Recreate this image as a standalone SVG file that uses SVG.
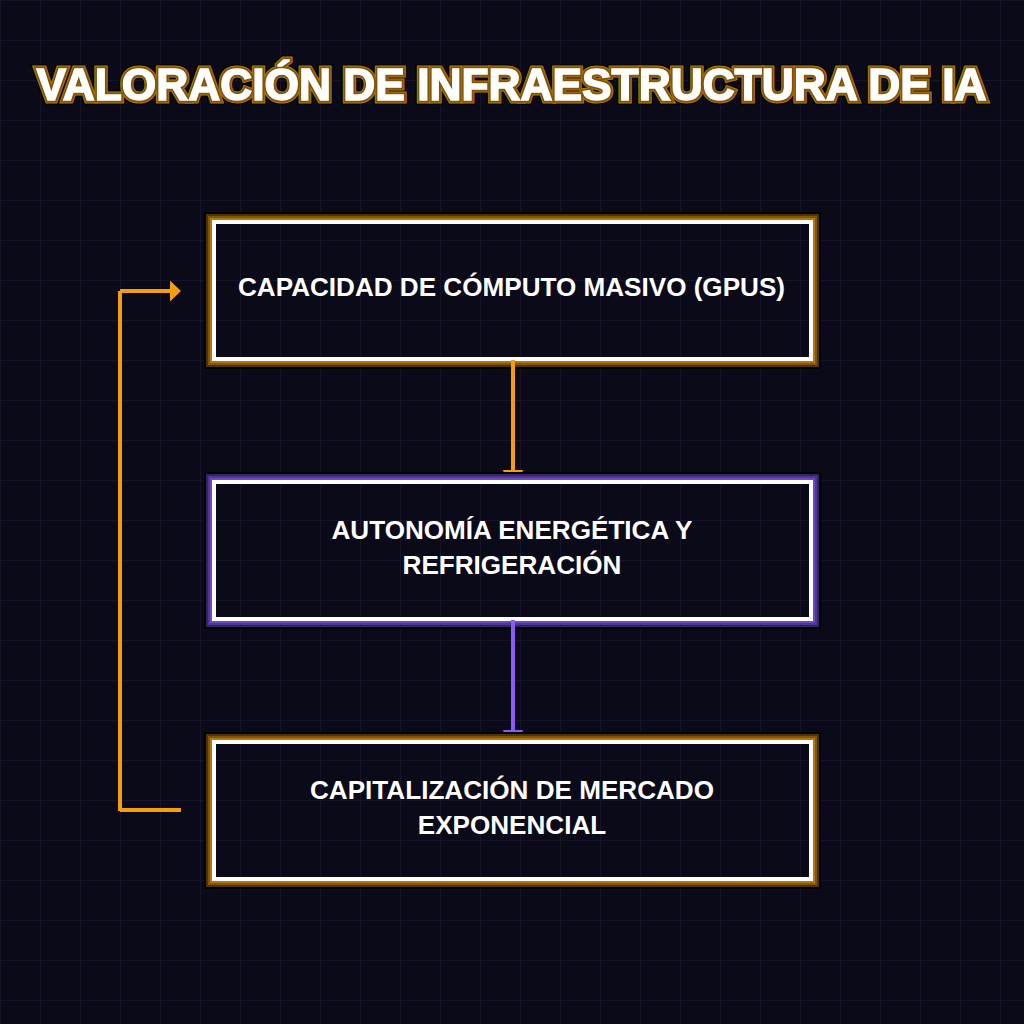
<svg xmlns="http://www.w3.org/2000/svg" width="1024" height="1024" viewBox="0 0 1024 1024">
<defs>
<pattern id="grid" width="40" height="40" patternUnits="userSpaceOnUse"><path d="M0 0H40M0 0V40" fill="none" stroke="#17142a" stroke-width="2" shape-rendering="crispEdges"/></pattern>
<marker id="tipO" markerUnits="userSpaceOnUse" markerWidth="11" markerHeight="21" refX="0" refY="10.5" orient="0" viewBox="0 0 11 21"><path d="M0 0L11 10.5L0 21Z" fill="#f59e0b"/></marker>
<marker id="footO" markerUnits="userSpaceOnUse" markerWidth="21" markerHeight="2" refX="10.5" refY="0" orient="0" viewBox="0 0 21 2"><path d="M0 0H21L20 1V2H1V1Z" fill="#f59e0b"/></marker>
<marker id="footV" markerUnits="userSpaceOnUse" markerWidth="21" markerHeight="2" refX="10.5" refY="0" orient="0" viewBox="0 0 21 2"><path d="M0 0H21L20 1V2H1V1Z" fill="#8b5cf6"/></marker>
<filter id="soft" x="-5%" y="-30%" width="110%" height="160%"><feGaussianBlur stdDeviation="0.6"/></filter>
</defs>
<style>
.r{fill:none;shape-rendering:crispEdges;stroke-width:2}
.k{stroke:#000}
.w{stroke:#fff;stroke-width:4}
.o3{stroke:#4d3408}.o2{stroke:#7f5609}.o1{stroke:#b4770b}
.v3{stroke:#352364}.v2{stroke:#4e3691}.v1{stroke:#6b4bc0}
.l{font:bold 26.1px "Liberation Sans",Arial,sans-serif;fill:#fff;text-anchor:middle}
.t{font:bold 44.3px "Liberation Sans",Arial,sans-serif;text-anchor:middle;stroke-linejoin:miter;stroke-miterlimit:3}
.c{fill:none;stroke-width:4;shape-rendering:crispEdges}
</style>
<rect width="1024" height="1024" fill="#0a0a18"/>
<rect width="1024" height="1024" fill="url(#grid)"/>
<g id="title">
<text class="t" x="511.5" y="100" fill="none" stroke="#000" stroke-width="9">VALORACIÓN DE INFRAESTRUCTURA DE IA</text>
<text class="t" x="511.5" y="100" fill="none" stroke="#b4770b" stroke-width="7">VALORACIÓN DE INFRAESTRUCTURA DE IA</text>
<text class="t" x="511.5" y="100" fill="none" stroke="#7f5609" stroke-width="5">VALORACIÓN DE INFRAESTRUCTURA DE IA</text>
<text class="t" x="511.5" y="100" fill="#fff" stroke="#fff" stroke-width="1.5" filter="url(#soft)">VALORACIÓN DE INFRAESTRUCTURA DE IA</text>
<text class="t" x="511.5" y="100" fill="#fff">VALORACIÓN DE INFRAESTRUCTURA DE IA</text>
</g>
<g id="node-1">
<rect class="r k" x="205" y="213" width="615" height="155"/><rect class="r o3" x="207" y="215" width="611" height="151"/><rect class="r o2" x="209" y="217" width="607" height="147"/><rect class="r o1" x="211" y="219" width="603" height="143"/><rect class="r w" x="214" y="222" width="597" height="137"/>
<text class="l" x="511.5" y="296">CAPACIDAD DE CÓMPUTO MASIVO (GPUS)</text>
</g>
<g id="node-2">
<rect class="r k" x="205" y="473" width="615" height="155"/><rect class="r v3" x="207" y="475" width="611" height="151"/><rect class="r v2" x="209" y="477" width="607" height="147"/><rect class="r v1" x="211" y="479" width="603" height="143"/><rect class="r w" x="214" y="482" width="597" height="137"/>
<text class="l" x="512" y="539">AUTONOMÍA ENERGÉTICA Y</text>
<text class="l" x="512" y="574">REFRIGERACIÓN</text>
</g>
<g id="node-3">
<rect class="r k" x="205" y="733" width="615" height="155"/><rect class="r o3" x="207" y="735" width="611" height="151"/><rect class="r o2" x="209" y="737" width="607" height="147"/><rect class="r o1" x="211" y="739" width="603" height="143"/><rect class="r w" x="214" y="742" width="597" height="137"/>
<text class="l" x="512" y="799">CAPITALIZACIÓN DE MERCADO</text>
<text class="l" x="512" y="834">EXPONENCIAL</text>
</g>
<g id="connectors">
<path class="c" stroke="#f59e0b" d="M513 360V470" marker-end="url(#footO)"/>
<path class="c" stroke="#8b5cf6" d="M513 620V730" marker-end="url(#footV)"/>
<path class="c" stroke="#f59e0b" d="M181 810H120"/>
<path class="c" stroke="#f59e0b" d="M120 811V291"/>
<path class="c" stroke="#f59e0b" d="M120 291H170" marker-end="url(#tipO)"/>
</g>
</svg>
